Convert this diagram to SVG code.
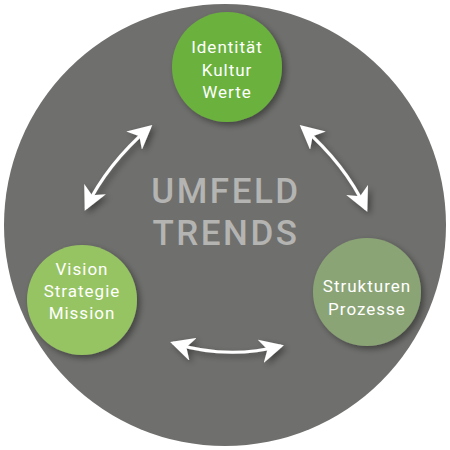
<svg xmlns="http://www.w3.org/2000/svg" width="450" height="450" viewBox="0 0 450 450">
  <defs>
    <filter id="shadow" x="-30%" y="-30%" width="160%" height="160%">
      <feDropShadow dx="3" dy="3" stdDeviation="3" flood-color="#000" flood-opacity="0.4"/>
    </filter>
    <marker id="head" viewBox="0 0 24 24" refX="21" refY="12" markerWidth="24" markerHeight="24" markerUnits="userSpaceOnUse" orient="auto-start-reverse">
      <path d="M24,12 L0,0 L7,12 L0,24 Z" fill="#ffffff"/>
    </marker>
  </defs>
  <style>
    .node-label { font-family: Roboto, "Liberation Sans", sans-serif; font-size: 17px; font-weight: 400; fill: #ffffff; text-anchor: middle; letter-spacing: 1px; }
    .center-label { font-family: Roboto, "Liberation Sans", sans-serif; font-size: 35px; font-weight: 500; fill: #b4b4b2; text-anchor: middle; letter-spacing: 2.5px; }
    .arrow { fill: none; stroke: #ffffff; stroke-width: 3; marker-start: url(#head); marker-end: url(#head); }
  </style>

  <g id="umfeld">
    <circle cx="225" cy="225" r="221" fill="#6f6f6d"/>
    <text class="center-label" x="226" y="203">UMFELD</text>
    <text class="center-label" x="226" y="245">TRENDS</text>
  </g>

  <g id="connectors" filter="url(#shadow)">
    <path class="arrow" d="M86,208 Q107,164 150,127"/>
    <path class="arrow" d="M302,127 Q345,164 366,209"/>
    <path class="arrow" d="M173,343 Q227,360 281,346"/>
  </g>

  <g id="identitaet">
    <circle cx="227" cy="67" r="55" fill="#6bb23d" filter="url(#shadow)"/>
    <text class="node-label" x="227" y="53">Identität</text>
    <text class="node-label" x="227" y="76">Kultur</text>
    <text class="node-label" x="227" y="98">Werte</text>
  </g>

  <g id="vision">
    <circle cx="82" cy="300" r="55" fill="#97c464" filter="url(#shadow)"/>
    <text class="node-label" x="82" y="275">Vision</text>
    <text class="node-label" x="82" y="297">Strategie</text>
    <text class="node-label" x="82" y="319">Mission</text>
  </g>

  <g id="strukturen">
    <circle cx="367" cy="292" r="54" fill="#8ba476" filter="url(#shadow)"/>
    <text class="node-label" x="367" y="292">Strukturen</text>
    <text class="node-label" x="367" y="315">Prozesse</text>
  </g>
</svg>
